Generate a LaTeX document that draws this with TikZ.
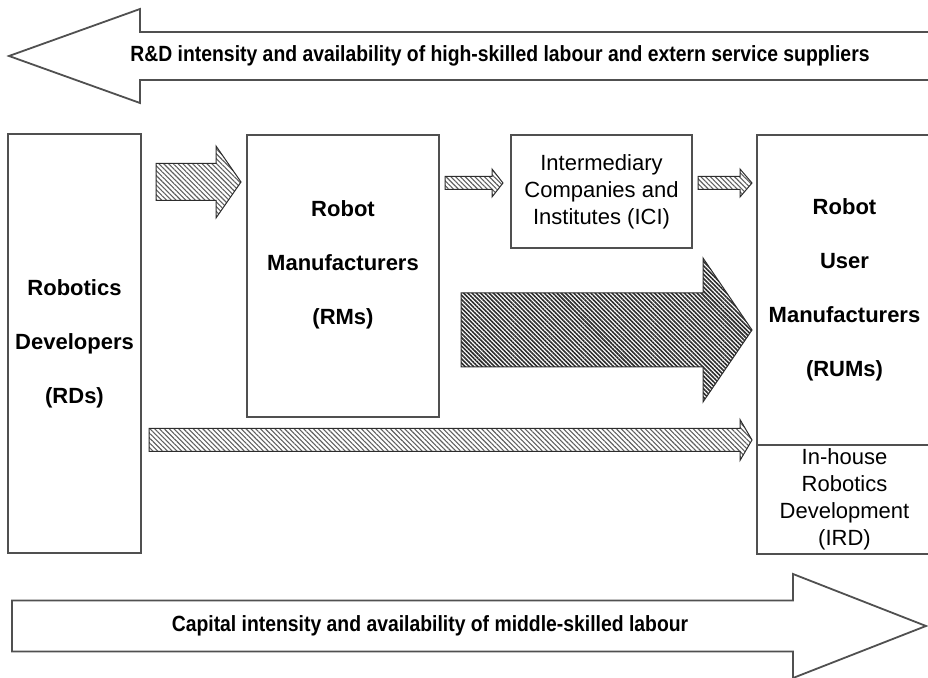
\documentclass[tikz,border=0pt]{standalone}
\usepackage{fontspec}
\setmainfont{Liberation Sans}
\newfontfamily\condfont{Liberation Sans}[FakeStretch=0.88]
\usetikzlibrary{calc, patterns.meta}
\definecolor{boxgray}{RGB}{80, 80, 80}
\definecolor{hatchgray}{RGB}{95, 95, 95}
\definecolor{hatchdark}{RGB}{45, 45, 45}

% block arrow: style, from, to, shaft half, head half, head length
\newcommand{\blockarrow}[6]{%
  \draw[#1] let \p1=(#2), \p2=(#3) in
    (\x1,{\y1+#4}) -- ({\x2-#6},{\y1+#4}) -- ({\x2-#6},{\y1+#5}) -- (\x2,\y1)
    -- ({\x2-#6},{\y1-#5}) -- ({\x2-#6},{\y1-#4}) -- (\x1,{\y1-#4}) -- cycle;}

\begin{document}
\begin{tikzpicture}[x=0.5pt, y=-0.5pt,
  actor/.style={draw=boxgray, line width=0.9pt, inner sep=0pt},
  boldlbl/.style={font=\bfseries\fontsize{11}{27}\selectfont, align=center},
  plainlbl/.style={font=\fontsize{11}{13.5}\selectfont, align=center},
  bandarrow/.style={draw=boxgray, line width=0.9pt, fill=white},
  bandtext/.style={font=\condfont\bfseries\fontsize{11}{13}\selectfont},
  hatch/.style={draw=hatchdark, line width=0.5pt,
    pattern={Lines[angle=-45, distance=1.7pt, line width=0.55pt]}, pattern color=hatchgray},
  densehatch/.style={draw=hatchdark, line width=0.5pt,
    pattern={Lines[angle=-45, distance=1.5pt, line width=0.8pt]}, pattern color=hatchdark}]
  \clip (0,0) rectangle (928,678);

  % top band arrow
  \coordinate (topR) at (935,56);
  \coordinate (topL) at (9,56);
  \blockarrow{bandarrow}{topR}{topL}{12pt}{23.5pt}{-65.5pt}
  \node[bandtext] (toptxt) at (500,56) {R\&D intensity and availability of high-skilled labour and extern service suppliers};

  % actors
  \node[actor, minimum width=66.5pt, minimum height=209.5pt, boldlbl] (rd) at (74.5,343.5) {Robotics\\Developers\\(RDs)};
  \node[actor, minimum width=96pt, minimum height=141pt] (rm) at (343,276) {};
  \node[boldlbl] (rmlbl) at (343,265) {Robot\\Manufacturers\\(RMs)};
  \node[actor, minimum width=90.5pt, minimum height=56.5pt, plainlbl] (ici) at (601.5,191.5) {Intermediary\\Companies and\\Institutes (ICI)};
  \node[actor, minimum width=87.5pt, minimum height=155pt, boldlbl] (rum) at (844.5,290) {Robot\\User\\Manufacturers\\(RUMs)};
  \node[actor, minimum width=87.5pt, minimum height=54.5pt, plainlbl] (ird) at (844.5,499.5) {In-house\\Robotics\\Development\\(IRD)};

  % flows
  \coordinate (f1s) at (156,182);  \coordinate (f1e) at (241,182);
  \coordinate (f2s) at (445,183);  \coordinate (f2e) at (503,183);
  \coordinate (f3s) at (698,183);  \coordinate (f3e) at (752,183);
  \coordinate (f4s) at (461,330);  \coordinate (f4e) at (752,330);
  \coordinate (f5s) at (149,440);  \coordinate (f5e) at (752,440);
  \blockarrow{hatch}{f1s}{f1e}{9.25pt}{18pt}{12.5pt}
  \blockarrow{hatch}{f2s}{f2e}{3.25pt}{7pt}{5.5pt}
  \blockarrow{hatch}{f3s}{f3e}{3.25pt}{7pt}{6pt}
  \blockarrow{densehatch}{f4s}{f4e}{18.5pt}{36pt}{24.5pt}
  \blockarrow{hatch}{f5s}{f5e}{5.75pt}{10.25pt}{6pt}

  % bottom band arrow
  \coordinate (botL) at (12,626);
  \coordinate (botR) at (926,626);
  \blockarrow{bandarrow}{botL}{botR}{12.75pt}{26pt}{66.5pt}
  \node[bandtext] (bottxt) at (430,626) {Capital intensity and availability of middle-skilled labour};
\end{tikzpicture}
\end{document}
